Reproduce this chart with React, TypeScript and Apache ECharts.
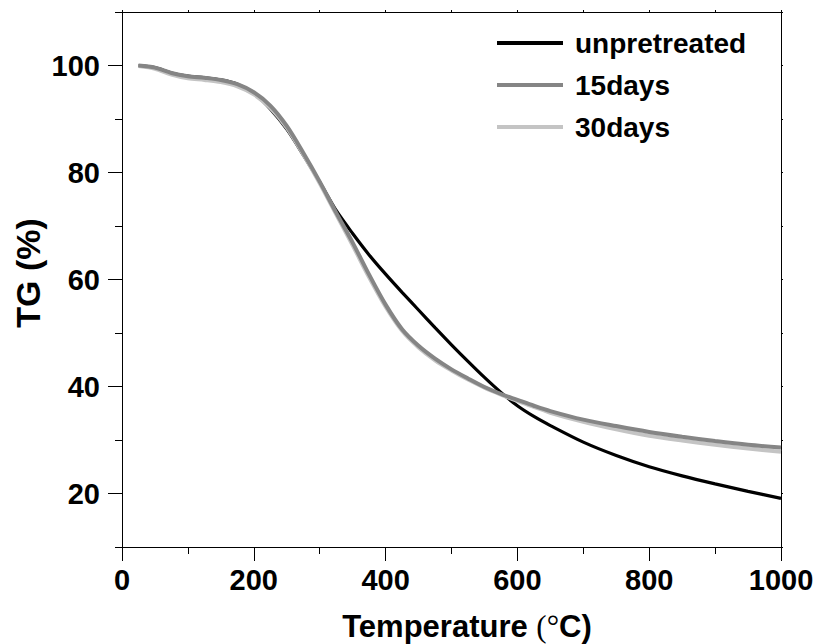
import React, { useEffect, useRef } from "react";
import * as echarts from "echarts";

const temperatures = [25, 50, 75, 100, 125, 150, 175, 200, 225, 250, 275, 300, 325, 350, 375, 400, 425, 450, 475, 500, 525, 550, 575, 600, 625, 650, 700, 750, 800, 850, 900, 950, 1000];
const unpretreated = [100, 99.6, 98.6, 98.0, 97.7, 97.3, 96.5, 94.8, 91.9, 88.1, 83.3, 78.2, 72.9, 68.6, 64.6, 61.0, 57.6, 54.3, 51.0, 47.8, 44.7, 41.7, 38.9, 36.4, 34.4, 32.7, 29.6, 27.1, 25.0, 23.3, 21.8, 20.4, 19.1];
const days15 = [100, 99.6, 98.6, 98.0, 97.7, 97.3, 96.5, 95.0, 92.5, 88.7, 83.7, 78.3, 72.5, 66.9, 60.9, 55.3, 50.7, 47.6, 45.2, 43.2, 41.5, 39.9, 38.6, 37.5, 36.4, 35.4, 33.8, 32.6, 31.5, 30.6, 29.8, 29.1, 28.6];
const days30 = [99.9, 99.4, 98.3, 97.6, 97.3, 96.9, 96.1, 94.6, 92.1, 88.4, 83.4, 78.0, 72.2, 66.4, 60.4, 54.9, 50.4, 47.3, 44.9, 43.0, 41.3, 39.8, 38.5, 37.3, 36.2, 35.1, 33.4, 32.0, 30.8, 29.9, 29.1, 28.4, 27.8];

const yLabelTicks = [20, 40, 60, 80, 100];
const yMinorTicks = [10, 30, 50, 70, 90, 110];
const yRightTicks = [10, 20, 30, 40, 50, 60, 70, 80, 90, 100, 110];
const seriesNames = ["unpretreated", "15days", "30days"];

const FONT = "'Liberation Sans', Arial, sans-serif";

export default function App() {
  const ref = useRef<HTMLDivElement>(null);
  useEffect(() => {
    if (!ref.current) return;
    const chart = echarts.init(ref.current, undefined, { renderer: "svg" });
    const pair = (ys: number[]) => temperatures.map((t, i) => [t, ys[i]]);
    chart.setOption({
      animation: false,
      backgroundColor: "#ffffff",
      grid: { left: 122, right: 35, top: 12, bottom: 97, outerBoundsMode: "none", containLabel: false },
      legend: {
        data: seriesNames,
        orient: "vertical",
        left: 497,
        top: 28,
        padding: 0,
        icon: "rect",
        itemWidth: 66,
        itemHeight: 4,
        itemGap: 12,
        textStyle: {
          fontFamily: FONT,
          fontWeight: "bold",
          fontSize: 28,
          color: "#000",
          lineHeight: 30,
          padding: [0, 0, 0, 7],
        },
      },
      xAxis: [
        {
          type: "value",
          min: 0,
          max: 1000,
          interval: 200,
          position: "bottom",
          axisLine: { show: true, onZero: false, lineStyle: { color: "#000", width: 1 } },
          axisTick: { show: true, inside: false, length: 14, lineStyle: { color: "#000", width: 1 } },
          minorTick: { show: true, splitNumber: 2, length: 7, lineStyle: { color: "#000", width: 1 } },
          splitLine: { show: false },
          axisLabel: {
            margin: 18,
            fontFamily: FONT,
            fontWeight: "bold",
            fontSize: 29,
            color: "#000",
            formatter: (v: number) => String(v),
          },
        },
        {
          type: "value",
          min: 0,
          max: 1000,
          interval: 100,
          position: "top",
          axisLine: { show: true, onZero: false, lineStyle: { color: "#000", width: 1 } },
          axisTick: { show: true, inside: false, length: 2, lineStyle: { color: "#000", width: 1 } },
          splitLine: { show: false },
          axisLabel: { show: false },
        },
      ],
      yAxis: [
        {
          type: "value",
          min: 10,
          max: 110,
          position: "left",
          axisLine: { show: true, onZero: false, lineStyle: { color: "#000", width: 1 } },
          axisTick: { show: true, length: 14, customValues: yLabelTicks, lineStyle: { color: "#000", width: 1 } },
          splitLine: { show: false },
          axisLabel: {
            margin: 22,
            customValues: yLabelTicks,
            fontFamily: FONT,
            fontWeight: "bold",
            fontSize: 29,
            color: "#000",
            formatter: (v: number) => String(v),
          },
        },
        {
          type: "value",
          min: 10,
          max: 110,
          position: "left",
          axisLine: { show: false },
          axisTick: { show: true, length: 7, customValues: yMinorTicks, lineStyle: { color: "#000", width: 1 } },
          splitLine: { show: false },
          axisLabel: { show: false },
        },
        {
          type: "value",
          min: 10,
          max: 110,
          position: "right",
          axisLine: { show: true, onZero: false, lineStyle: { color: "#000", width: 1 } },
          axisTick: { show: true, length: 2, customValues: yRightTicks, lineStyle: { color: "#000", width: 1 } },
          splitLine: { show: false },
          axisLabel: { show: false },
        },
      ],
      series: [
        {
          name: "unpretreated",
          type: "line",
          data: pair(unpretreated),
          smooth: 0.3,
          showSymbol: false,
          symbol: "none",
          color: "#000000",
          lineStyle: { color: "#000000", width: 3.2 },
          z: 2,
        },
        {
          name: "30days",
          type: "line",
          data: pair(days30),
          smooth: 0.3,
          showSymbol: false,
          symbol: "none",
          color: "#c4c4c4",
          lineStyle: { color: "#c4c4c4", width: 4 },
          z: 3,
        },
        {
          name: "15days",
          type: "line",
          data: pair(days15),
          smooth: 0.3,
          showSymbol: false,
          symbol: "none",
          color: "#858585",
          lineStyle: { color: "#858585", width: 4 },
          z: 4,
        },
      ],
      graphic: [
        {
          type: "text",
          x: 467,
          y: 626,
          style: {
            text: "{b|Temperature }{s|(°}{b|C)}",
            textAlign: "center",
            textVerticalAlign: "middle",
            rich: {
              b: { fontFamily: FONT, fontWeight: "bold", fontSize: 31, fill: "#000" },
              s: { fontFamily: "'Liberation Serif', 'Times New Roman', serif", fontWeight: "normal", fontSize: 31, fill: "#000" },
            },
          },
        },
        {
          type: "text",
          x: 28,
          y: 273,
          rotation: Math.PI / 2,
          style: {
            text: "TG (%)",
            textAlign: "center",
            textVerticalAlign: "middle",
            fontFamily: FONT,
            fontWeight: "bold",
            fontSize: 34,
            fill: "#000",
          },
        },
      ],
    });
    return () => chart.dispose();
  }, []);
  return (
    <div
      ref={ref}
      style={{ position: "fixed", left: 0, top: 0, width: 816, height: 644, background: "#fff" }}
    />
  );
}
